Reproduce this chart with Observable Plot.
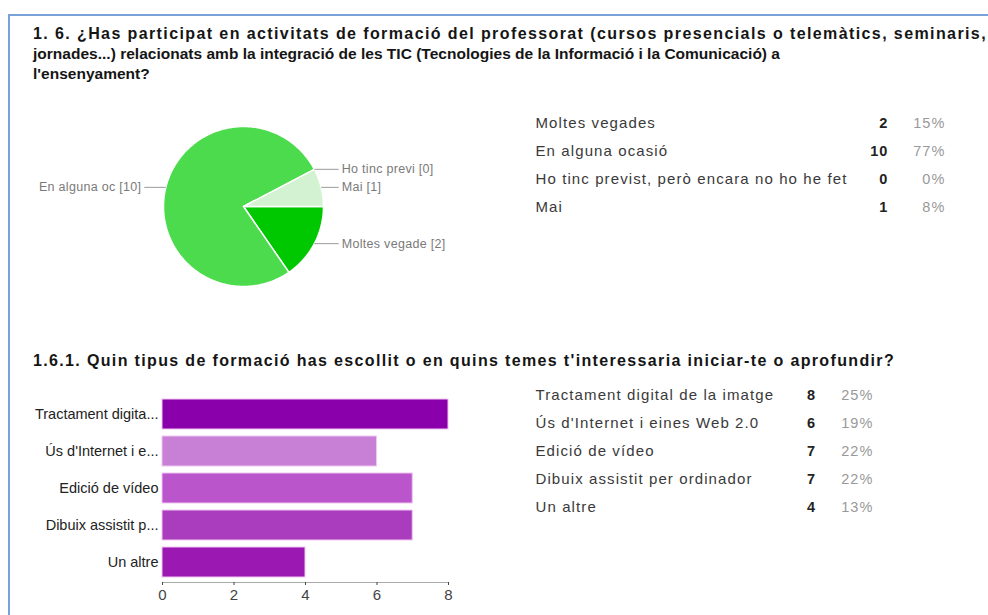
<!DOCTYPE html>
<html><head><meta charset="utf-8">
<script src="https://cdn.jsdelivr.net/npm/d3@7"></script>
<script src="https://cdn.jsdelivr.net/npm/@observablehq/plot@0.6"></script>
<style>
html,body{margin:0;padding:0;background:#fff;}
#page{position:relative;width:988px;height:615px;overflow:hidden;background:#fff;font-family:"Liberation Sans",Arial,sans-serif;}
#frame{position:absolute;left:8px;top:14px;width:1200px;height:800px;border-left:2px solid #78a2d8;border-top:2px solid #78a2d8;}
.t{position:absolute;white-space:nowrap;font-weight:bold;color:#151515;}
.abs{position:absolute;}
.abs svg{display:block;overflow:visible;}
</style></head>
<body><div id="page"><div id="frame"></div></div>
<script>
// ---- data ----
const pieCats = ["Moltes vegades", "En alguna ocasió", "Ho tinc previst, però encara no ho he fet", "Mai"];
const pieShort = ["Moltes vegade", "En alguna oc", "Ho tinc previ", "Mai"];
const pieCounts = [2, 10, 0, 1];
const piePercents = ["15%", "77%", "0%", "8%"];
const pieColors = ["#00c800", "#4cdb4c", "#a8e8a8", "#d2f2d2"];

const barCats = ["Tractament digital de la imatge", "Ús d'Internet i eines Web 2.0", "Edició de vídeo", "Dibuix assistit per ordinador", "Un altre"];
const barShort = ["Tractament digita...", "Ús d'Internet i e...", "Edició de vídeo", "Dibuix assistit p...", "Un altre"];
const barCounts = [8, 6, 7, 7, 4];
const barPercents = ["25%", "19%", "22%", "22%", "13%"];
const barColors = ["#8a00aa", "#c880d6", "#bb55cc", "#aa3cbe", "#9b19b2"];
const xTicks = [0, 2, 4, 6, 8];

const title1 = ["1. 6. ¿Has participat en activitats de formació del professorat (cursos presencials o telemàtics, seminaris,",
  "jornades...) relacionats amb la integració de les TIC (Tecnologies de la Informació i la Comunicació) a",
  "l'ensenyament?"];
const title2 = "1.6.1. Quin tipus de formació has escollit o en quins temes t'interessaria iniciar-te o aprofundir?";

const FONT = '"Liberation Sans", Arial, sans-serif';
const page = document.getElementById("page");

function addLine(text, left, baseline, size, target, ls) {
  const el = document.createElement("div");
  el.className = "t";
  el.textContent = text;
  el.style.fontSize = size + "px";
  el.style.lineHeight = size + "px";
  el.style.left = left + "px";
  el.style.top = (baseline - 0.8465 * size) + "px";
  page.appendChild(el);
  if (ls == null) {
    const w = el.getBoundingClientRect().width;
    ls = (target - w) / text.length;
  }
  el.style.letterSpacing = ls + "px";
  return ls;
}
function place(node, left, top) {
  const d = document.createElement("div");
  d.className = "abs";
  d.style.left = left + "px";
  d.style.top = top + "px";
  d.appendChild(node);
  page.appendChild(d);
}

// ---- titles ----
addLine(title1[0], 33, 40, 16, 954);
const ls2 = addLine(title1[1], 33, 59.5, 15.5, 747);
addLine(title1[2], 33, 79, 15.5, null, ls2);
addLine(title2, 33, 367, 16, 862);

// ---- pie ----
const arcs = d3.pie().sort(null).startAngle(Math.PI / 2).endAngle(Math.PI / 2 + 2 * Math.PI)(pieCounts);
const sliceMarks = [];
arcs.forEach((a, i) => {
  if (a.endAngle <= a.startAngle) return;
  const n = Math.max(2, Math.ceil((a.endAngle - a.startAngle) / (Math.PI / 180)));
  const pts = [{px: 0, py: 0}];
  for (let k = 0; k <= n; k++) {
    const t = a.startAngle + (a.endAngle - a.startAngle) * k / n;
    pts.push({px: Math.sin(t), py: Math.cos(t)});
  }
  pts.push({px: 0, py: 0});
  sliceMarks.push(Plot.line(pts, {x: "px", y: "py", fill: pieColors[i], stroke: "white", strokeWidth: 1.5, curve: "linear"}));
});
const leaders = arcs.map((a, i) => {
  const m = (a.startAngle + a.endAngle) / 2;
  const ex = Math.sin(m), ey = Math.cos(m);
  const right = ex >= 0;
  return {label: `${pieShort[i]} [${pieCounts[i]}]`, ex, ey, lx: right ? 1.19 : -1.24, right};
});
const piePlot = Plot.plot({
  width: 480, height: 200, margin: 0,
  x: {domain: [-1, 1], range: [143, 303], axis: null},
  y: {domain: [-1, 1], range: [180, 20], axis: null},
  style: {fontFamily: FONT, background: "transparent", overflow: "visible"},
  marks: [
    ...sliceMarks,
    Plot.link(leaders, {x1: "ex", y1: "ey", x2: "lx", y2: "ey", stroke: "#9a9a9a", strokeWidth: 1}),
    Plot.text(leaders.filter(d => d.right), {x: "lx", y: "ey", text: "label", textAnchor: "start", dx: 3, fill: "#7a7a7a", fontSize: 12.5}),
    Plot.text(leaders.filter(d => !d.right), {x: "lx", y: "ey", text: "label", textAnchor: "end", dx: -3, fill: "#7a7a7a", fontSize: 12.5})
  ]
});
piePlot.style.letterSpacing = "0.3px";
place(piePlot, 20, 106);

// ---- table 1 ----
const pieData = pieCats.map((c, i) => ({cat: c, count: String(pieCounts[i]), pct: piePercents[i]}));
const tab1 = Plot.plot({
  width: 410, height: 112, margin: 0,
  y: {type: "band", domain: pieCats, range: [0, 112], padding: 0, axis: null},
  style: {fontFamily: FONT, background: "transparent", overflow: "visible"},
  marks: [
    Plot.text(pieData, {y: "cat", text: "cat", frameAnchor: "left", textAnchor: "start", fill: "#3a3a3a", fontSize: 15}),
    Plot.text(pieData, {y: "cat", text: "count", frameAnchor: "right", textAnchor: "end", dx: -57, fill: "#222", fontWeight: "bold", fontSize: 14.5}),
    Plot.text(pieData, {y: "cat", text: "pct", frameAnchor: "right", textAnchor: "end", fill: "#999", fontSize: 14.5})
  ]
});
tab1.style.letterSpacing = "1.1px";
place(tab1, 535, 109);

// ---- table 2 ----
const barData = barCats.map((c, i) => ({cat: c, short: barShort[i], count: barCounts[i], pct: barPercents[i]}));
const tab2 = Plot.plot({
  width: 338, height: 140, margin: 0,
  y: {type: "band", domain: barCats, range: [0, 140], padding: 0, axis: null},
  style: {fontFamily: FONT, background: "transparent", overflow: "visible"},
  marks: [
    Plot.text(barData, {y: "cat", text: "cat", frameAnchor: "left", textAnchor: "start", fill: "#3a3a3a", fontSize: 15}),
    Plot.text(barData, {y: "cat", text: d => String(d.count), frameAnchor: "right", textAnchor: "middle", dx: -62, fill: "#222", fontWeight: "bold", fontSize: 14.5}),
    Plot.text(barData, {y: "cat", text: "pct", frameAnchor: "right", textAnchor: "end", fill: "#999", fontSize: 14.5})
  ]
});
tab2.style.letterSpacing = "1.1px";
place(tab2, 535, 381);

// ---- bar chart ----
const barPlot = Plot.plot({
  width: 470, height: 230,
  marginLeft: 162, marginRight: 22, marginTop: 9, marginBottom: 33,
  x: {domain: [0, 8]},
  y: {type: "band", domain: barCats, paddingInner: 0.2, paddingOuter: 0.1},
  color: {domain: barCats, range: barColors},
  style: {fontFamily: FONT, background: "transparent", overflow: "visible"},
  marks: [
    Plot.barX(barData, {x: "count", y: "cat", fill: "cat", stroke: "#f0c6f2", strokeWidth: 1}),
    Plot.frame({anchor: "bottom", stroke: "#aaaaaa"}),
    Plot.axisX({ticks: xTicks, tickSize: 3, tickPadding: 4, fontSize: 15, color: "#444", label: null}),
    Plot.axisY({tickSize: 0, tickPadding: 4, fontSize: 14.5, color: "#222", label: null,
      tickFormat: d => barShort[barCats.indexOf(d)]})
  ]
});
place(barPlot, 0, 385);
</script>
</body></html>
